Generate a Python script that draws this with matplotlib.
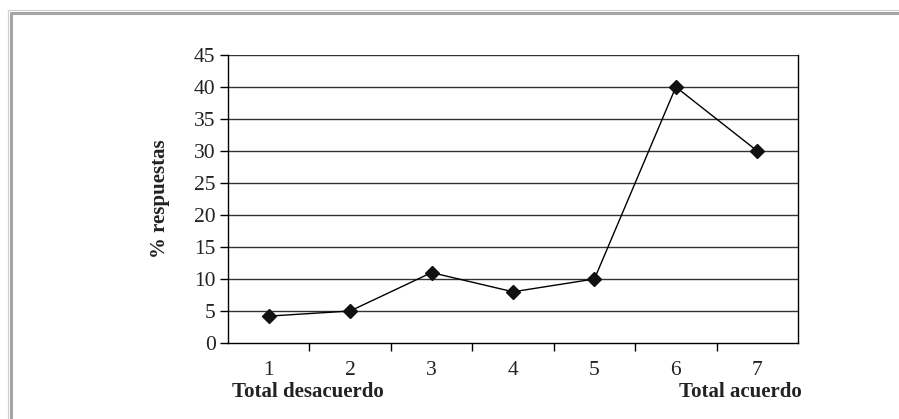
import matplotlib
matplotlib.use("Agg")
import matplotlib.pyplot as plt
from matplotlib.lines import Line2D

# Survey responses on a 7-point agreement scale
categories = [1, 2, 3, 4, 5, 6, 7]
percent_responses = [4.2, 5, 11, 8, 10, 40, 30]
y_ticks = [0, 5, 10, 15, 20, 25, 30, 35, 40, 45]
left_label = "Total desacuerdo"
right_label = "Total acuerdo"
y_label = "% respuestas"

W, H = 899, 419
plt.rcParams["font.family"] = ["Liberation Serif", "DejaVu Serif"]

fig = plt.figure(figsize=(W / 100, H / 100), dpi=100)
fig.patch.set_facecolor("white")

# plot area in pixel coordinates
x0, x1, y_top, y_bot = 228, 798, 55, 343
ax = fig.add_axes([x0 / W, 1 - y_bot / H, (x1 - x0) / W, (y_bot - y_top) / H])

ax.plot(categories, percent_responses, color="black", lw=1.0,
        marker="D", ms=7.5, mfc="#111111", mec="#111111", zorder=3)

ax.set_xlim(0.5, 7.5)
ax.set_ylim(0, 45)
ax.set_yticks(y_ticks)
ax.set_yticklabels([str(v) for v in y_ticks])
for v in y_ticks[1:]:
    ax.axhline(v, color="#333333", lw=1.0, zorder=1)

# category labels centred, tick marks on category boundaries
ax.set_xticks(categories)
ax.set_xticklabels([str(c) for c in categories])
ax.set_xticks([c + 0.5 for c in categories[:-1]], minor=True)
ax.tick_params(axis="x", which="major", length=0, pad=13, labelsize=15.5, colors="#222222")
ax.tick_params(axis="x", which="minor", length=6, width=1.0, direction="out", color="black")
ax.tick_params(axis="y", length=6, width=1.0, direction="out", pad=3, labelsize=15.5,
               labelcolor="#222222")

for s in ax.spines.values():
    s.set_color("black")
    s.set_linewidth(1.0)
ax.spines["top"].set_visible(False)

ax.set_ylabel(y_label, fontsize=15, fontweight="bold", labelpad=17, color="#222222")

fig.text(308 / W, 1 - 392 / H, left_label, ha="center", va="center",
         fontsize=15, fontweight="bold", color="#222222")
fig.text(740 / W, 1 - 392 / H, right_label, ha="center", va="center",
         fontsize=15, fontweight="bold", color="#222222")

# grey frame along the top and left edges
def px_line(xs, ys, color, lw):
    fig.add_artist(Line2D([x / W for x in xs], [1 - y / H for y in ys],
                          transform=fig.transFigure, color=color, lw=lw,
                          solid_capstyle="butt"))

px_line([7, W], [10.5, 10.5], "#cfcfcf", 0.8)
px_line([10, W], [13, 13], "#a5a5a5", 2.2)
px_line([7.5, 7.5], [10, H], "#cfcfcf", 0.8)
px_line([11, 11], [12, H], "#a5a5a5", 2.2)

fig.savefig("out.png", dpi=100)
